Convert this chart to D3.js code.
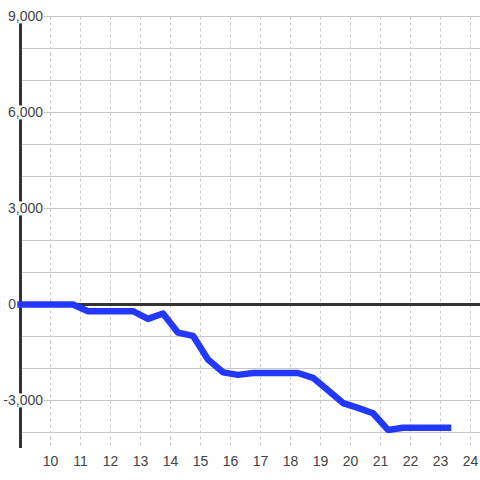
<!DOCTYPE html>
<html>
<head>
<meta charset="utf-8">
<script src="https://cdn.jsdelivr.net/npm/d3@7"></script>
<style>
  body { margin: 0; background: #fff; }
  svg { display: block; font-family: "Liberation Sans", Arial, sans-serif; }
</style>
</head>
<body>
<svg id="chart" width="480" height="480"></svg>
<script>
// hour of day vs cumulative value
const hours = [9, 9.75, 10.25, 10.75, 11.25, 11.75, 12.25, 12.75, 13.25, 13.75, 14.25, 14.75,
  15.25, 15.75, 16.25, 16.75, 17.25, 17.75, 18.25, 18.75, 19.25, 19.75, 20.25, 20.75,
  21.25, 21.75, 22.25, 22.75, 23.25];
const values = [0, 0, 0, 0, -210, -210, -210, -210, -450, -280, -880, -980,
  -1720, -2120, -2200, -2140, -2140, -2140, -2140, -2290, -2680, -3080, -3230, -3400,
  -3920, -3850, -3850, -3850, -3850];
const yTicks = [-3000, 0, 3000, 6000, 9000];
const yGrid = d3.range(-4000, 9001, 1000);
const xTicks = d3.range(10, 25);

const W = 480, H = 480;
const svg = d3.select('#chart');

const xS = d3.scaleLinear().domain([9, 25]).range([20.5, 500.5]);
const yS = d3.scaleLinear().domain([-4500, 9500]).range([448.5, 0.5]);

const fmt = v => d3.format(',')(v).replace('\u2212', '-');

// horizontal grid
svg.append('g').selectAll('line').data(yGrid)
  .join('line')
  .attr('x1', 20).attr('x2', W)
  .attr('y1', d => yS(d)).attr('y2', d => yS(d))
  .attr('stroke', '#c8c8c8').attr('stroke-width', 1);

// vertical dashed grid
svg.append('g').selectAll('line').data(xTicks)
  .join('line')
  .attr('x1', d => xS(d)).attr('x2', d => xS(d))
  .attr('y1', yS(9000)).attr('y2', 448)
  .attr('stroke', '#c8c8c8').attr('stroke-width', 1)
  .attr('stroke-dasharray', '3,3');

// zero line
svg.append('line')
  .attr('x1', 20).attr('x2', W)
  .attr('y1', yS(0)).attr('y2', yS(0))
  .attr('stroke', '#333').attr('stroke-width', 3);

// y axis line
svg.append('line')
  .attr('x1', 20.5).attr('x2', 20.5)
  .attr('y1', yS(9000)).attr('y2', 448)
  .attr('stroke', '#333').attr('stroke-width', 3);

// y labels with white backing
const yl = svg.append('g').selectAll('g').data(yTicks)
  .join('g');
yl.append('text')
  .attr('x', d => d === 0 ? 16 : 43)
  .attr('y', d => yS(d))
  .attr('dy', '0.35em')
  .attr('text-anchor', 'end')
  .attr('font-size', 14)
  .attr('fill', '#444')
  .text(fmt);
yl.each(function () {
  const g = d3.select(this);
  const b = g.select('text').node().getBBox();
  g.insert('rect', 'text')
    .attr('x', b.x - 1).attr('y', b.y + 1)
    .attr('width', b.width + 2).attr('height', b.height - 2)
    .attr('fill', '#fff');
});

// x labels
svg.append('g').selectAll('text').data(xTicks)
  .join('text')
  .attr('x', d => xS(d))
  .attr('y', 466)
  .attr('text-anchor', 'middle')
  .attr('font-size', 14)
  .attr('fill', '#444')
  .text(d => d);

// data line
const line = d3.line()
  .x((d, i) => xS(hours[i]))
  .y(d => yS(d));

svg.append('path')
  .datum(values)
  .attr('d', line)
  .attr('fill', 'none')
  .attr('stroke', '#2238ff')
  .attr('stroke-width', 6.5)
  .attr('stroke-linejoin', 'round')
  .attr('stroke-linecap', 'square');
</script>
</body>
</html>
